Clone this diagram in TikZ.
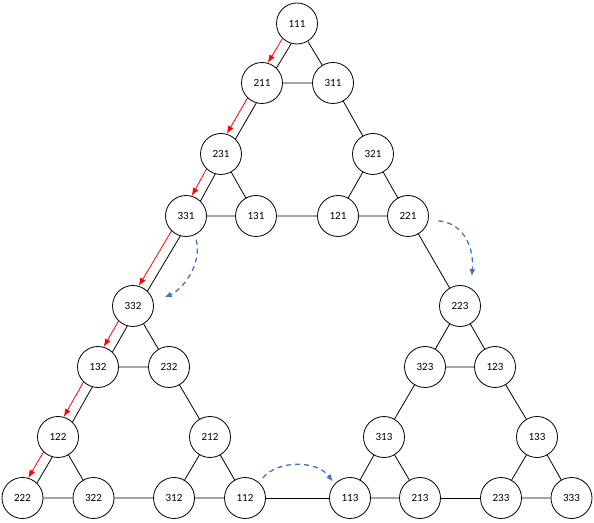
\documentclass[tikz,border=0pt]{standalone}
\usepackage{fontspec}
\setmainfont{Carlito}
\usetikzlibrary{arrows.meta, calc}
\definecolor{hintblue}{RGB}{68,114,196}

\begin{document}
\begin{tikzpicture}[x=1pt, y=1pt,
    state/.style={circle, draw, line width=0.8pt, minimum size=41pt, inner sep=0pt, font=\fontsize{11}{13}\selectfont},
    edge/.style={line width=0.8pt},
    move/.style={-{Latex[length=8pt, width=6pt]}, red, line width=0.8pt},
    hint/.style={-{Latex[length=7pt, width=6pt]}, hintblue, line width=1.3pt, dash pattern=on 5pt off 4pt}]
    \useasboundingbox (0,0) rectangle (594,522);

    % Define nodes, row by row from the top
    \node [state] (n111) at (297,498.5) {111};
    \node [state] (n211) at (262,439) {211};
    \node [state] (n311) at (333,439) {311};
    \node [state] (n231) at (221,368) {231};
    \node [state] (n321) at (373,368) {321};
    \node [state] (n331) at (186,306) {331};
    \node [state] (n131) at (256,306) {131};
    \node [state] (n121) at (338,306) {121};
    \node [state] (n221) at (408,306) {221};
    \node [state] (n332) at (133,216) {332};
    \node [state] (n223) at (460,216) {223};
    \node [state] (n132) at (98,155) {132};
    \node [state] (n232) at (169,155) {232};
    \node [state] (n323) at (425,155) {323};
    \node [state] (n123) at (495,155) {123};
    \node [state] (n122) at (58,85) {122};
    \node [state] (n212) at (210,85) {212};
    \node [state] (n313) at (384,85) {313};
    \node [state] (n133) at (537,85) {133};
    \node [state] (n222) at (22.5,24) {222};
    \node [state] (n322) at (93.5,24) {322};
    \node [state] (n312) at (174,24) {312};
    \node [state] (n112) at (245,24) {112};
    \node [state] (n113) at (350,24) {113};
    \node [state] (n213) at (420,24) {213};
    \node [state] (n233) at (501,24) {233};
    \node [state] (n333) at (571.5,24) {333};

    % Edges along the left side (shifted beside the red moves)
    \draw[edge] (n111.254) -- (n211.46);
    \draw[edge] (n211.254) -- (n231.46);
    \draw[edge] (n231.254) -- (n331.46);
    \draw[edge] (n331.254) -- (n332.46);
    \draw[edge] (n332.254) -- (n132.46);
    \draw[edge] (n132.254) -- (n122.46);
    \draw[edge] (n122.254) -- (n222.46);

    % Other edges
    \draw[edge] (n111) -- (n311) (n211) -- (n311) (n311) -- (n321);
    \draw[edge] (n231) -- (n131) (n331) -- (n131) (n131) -- (n121);
    \draw[edge] (n321) -- (n121) (n321) -- (n221) (n121) -- (n221);
    \draw[edge] (n221) -- (n223);
    \draw[edge] (n332) -- (n232) (n132) -- (n232) (n232) -- (n212);
    \draw[edge] (n223) -- (n323) (n223) -- (n123) (n323) -- (n123);
    \draw[edge] (n323) -- (n313) (n123) -- (n133);
    \draw[edge] (n122) -- (n322) (n222) -- (n322) (n322) -- (n312);
    \draw[edge] (n212) -- (n312) (n212) -- (n112) (n312) -- (n112);
    \draw[edge] (n112) -- (n113);
    \draw[edge] (n313) -- (n113) (n313) -- (n213) (n113) -- (n213);
    \draw[edge] (n213) -- (n233);
    \draw[edge] (n133) -- (n233) (n133) -- (n333) (n233) -- (n333);

    % Red moves
    \draw[move] (n111.226) -- (n211.74);
    \draw[move] (n211.226) -- (n231.74);
    \draw[move] (n231.226) -- (n331.74);
    \draw[move] (n331.226) -- (n332.74);
    \draw[move] (n332.226) -- (n132.74);
    \draw[move] (n132.226) -- (n122.74);
    \draw[move] (n122.226) -- (n222.74);

    % Dashed blue hints
    \draw[hint, shorten <=5pt, shorten >=12pt] (n331.-65) to[out=-75, in=22] (n332.12);
    \draw[hint, shorten <=10pt, shorten >=12pt] (n221.-11) to[out=-5, in=85, looseness=1.2] (n223.59);
    \draw[hint, shorten <=6pt, shorten >=3pt] (n112.48) to[out=50, in=126] (n113.138);
\end{tikzpicture}
\end{document}
